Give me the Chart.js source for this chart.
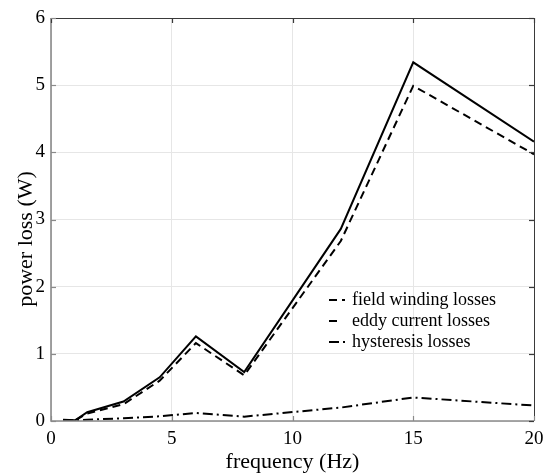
<!DOCTYPE html>
<html>
<head>
<meta charset="utf-8">
<script src="https://cdn.jsdelivr.net/npm/chart.js@4/dist/chart.umd.min.js"></script>
<style>
  html, body { margin: 0; padding: 0; background: #ffffff; }
  #wrap { width: 546px; height: 473px; }
</style>
</head>
<body>
<div id="wrap"><canvas id="lossChart" width="546" height="473"></canvas></div>
<script>
// Data
const frequency = [0.5, 1, 1.5, 3, 4.5, 6, 8, 12, 15, 20];
const eddyLoss = [0.02, 0.01, 0.13, 0.29, 0.65, 1.26, 0.73, 2.86, 5.34, 4.16];
const fieldLoss = [0.01, 0.01, 0.11, 0.25, 0.60, 1.16, 0.68, 2.68, 4.99, 3.97];
const hystLoss = [0.01, 0.01, 0.02, 0.04, 0.07, 0.12, 0.065, 0.20, 0.35, 0.23];
const xTicks = [0, 5, 10, 15, 20];
const yTicks = [0, 1, 2, 3, 4, 5, 6];

const serif = "'Liberation Serif', 'Times New Roman', serif";

function toPoints(ys) {
    return frequency.map((f, i) => ({ x: f, y: ys[i] }));
}

// Box, inward ticks, y title and the floating legend
const framePlugin = {
    id: 'frame',
    afterDatasetsDraw(chart) {
        const ctx = chart.ctx;
        const a = chart.chartArea;
        const xs = chart.scales.x;
        const ys = chart.scales.y;
        ctx.save();
        // top and right edges
        ctx.strokeStyle = '#3a3a3a';
        ctx.lineWidth = 1;
        ctx.beginPath();
        ctx.moveTo(a.left, a.top + 0.5);
        ctx.lineTo(a.right + 0.5, a.top + 0.5);
        ctx.lineTo(a.right + 0.5, a.bottom);
        ctx.stroke();
        // left and bottom edges
        ctx.strokeStyle = '#8a8a8a';
        ctx.lineWidth = 1.6;
        ctx.beginPath();
        ctx.moveTo(a.left, a.top);
        ctx.lineTo(a.left, a.bottom);
        ctx.lineTo(a.right, a.bottom);
        ctx.stroke();
        // ticks
        const len = 5;
        xTicks.forEach(v => {
            const px = Math.round(xs.getPixelForValue(v)) + 0.5;
            ctx.strokeStyle = '#8a8a8a';
            ctx.lineWidth = 1.2;
            ctx.beginPath();
            ctx.moveTo(px, a.bottom);
            ctx.lineTo(px, a.bottom - len);
            ctx.stroke();
            ctx.strokeStyle = '#3a3a3a';
            ctx.beginPath();
            ctx.moveTo(px, a.top);
            ctx.lineTo(px, a.top + len);
            ctx.stroke();
        });
        yTicks.forEach(v => {
            const py = Math.round(ys.getPixelForValue(v)) + 0.5;
            ctx.strokeStyle = '#8a8a8a';
            ctx.lineWidth = 1.2;
            ctx.beginPath();
            ctx.moveTo(a.left, py);
            ctx.lineTo(a.left + len, py);
            ctx.stroke();
            ctx.strokeStyle = '#3a3a3a';
            ctx.beginPath();
            ctx.moveTo(a.right, py);
            ctx.lineTo(a.right - len, py);
            ctx.stroke();
        });
        // y axis title (sits a little below the middle, as in the figure)
        ctx.save();
        ctx.translate(26, 239);
        ctx.rotate(-Math.PI / 2);
        ctx.font = '22px ' + serif;
        ctx.fillStyle = '#000';
        ctx.textAlign = 'center';
        ctx.textBaseline = 'middle';
        ctx.fillText('power loss (W)', 0, 0);
        ctx.restore();
        // legend (field winding, eddy current, hysteresis)
        const order = [1, 0, 2];
        const sampleLen = [16, 8, 16];
        ctx.font = '18px ' + serif;
        ctx.textBaseline = 'middle';
        ctx.textAlign = 'left';
        order.forEach((di, row) => {
            const ds = chart.data.datasets[di];
            const y = 300 + row * 21;
            ctx.strokeStyle = '#000';
            ctx.lineWidth = 2;
            ctx.setLineDash(ds.borderDash || []);
            ctx.beginPath();
            ctx.moveTo(329, y);
            ctx.lineTo(329 + sampleLen[row], y);
            ctx.stroke();
            ctx.setLineDash([]);
            ctx.fillStyle = '#000';
            ctx.fillText(ds.label, 352, y);
        });
        ctx.restore();
    }
};

const ctx = document.getElementById('lossChart').getContext('2d');
new Chart(ctx, {
    type: 'line',
    data: {
        datasets: [
            {
                label: 'eddy current losses',
                data: toPoints(eddyLoss),
                borderColor: '#000',
                borderWidth: 2,
                pointRadius: 0,
                tension: 0
            },
            {
                label: 'field winding losses',
                data: toPoints(fieldLoss),
                borderColor: '#000',
                borderWidth: 2,
                borderDash: [8, 5],
                pointRadius: 0,
                tension: 0
            },
            {
                label: 'hysteresis losses',
                data: toPoints(hystLoss),
                borderColor: '#000',
                borderWidth: 2,
                borderDash: [10, 4, 2, 4],
                pointRadius: 0,
                tension: 0
            }
        ]
    },
    options: {
        responsive: false,
        animation: false,
        events: [],
        layout: { padding: { top: 18, right: 12, left: 0, bottom: 0 } },
        plugins: {
            legend: { display: false },
            tooltip: { enabled: false }
        },
        scales: {
            x: {
                type: 'linear',
                min: 0,
                max: 20,
                afterFit(scale) {
                    scale.height = 52;
                    scale.paddingLeft = 0;
                    scale.paddingRight = 0;
                },
                border: { display: false },
                grid: { color: '#e6e6e6', lineWidth: 1, drawTicks: false },
                afterBuildTicks(scale) { scale.ticks = xTicks.map(v => ({ value: v })); },
                ticks: {
                    padding: 7,
                    color: '#000',
                    maxRotation: 0,
                    font: { family: serif, size: 19 }
                },
                title: {
                    display: true,
                    text: 'frequency (Hz)',
                    color: '#000',
                    padding: { top: 0, bottom: 0 },
                    font: { family: serif, size: 22, lineHeight: 1 }
                }
            },
            y: {
                min: 0,
                max: 6,
                afterFit(scale) {
                    scale.width = 51;
                    scale.paddingTop = 0;
                    scale.paddingBottom = 0;
                },
                border: { display: false },
                grid: { color: '#e6e6e6', lineWidth: 1, drawTicks: false },
                afterBuildTicks(scale) { scale.ticks = yTicks.map(v => ({ value: v })); },
                ticks: {
                    padding: 6,
                    color: '#000',
                    font: { family: serif, size: 19 }
                }
            }
        }
    },
    plugins: [framePlugin]
});
</script>
</body>
</html>
